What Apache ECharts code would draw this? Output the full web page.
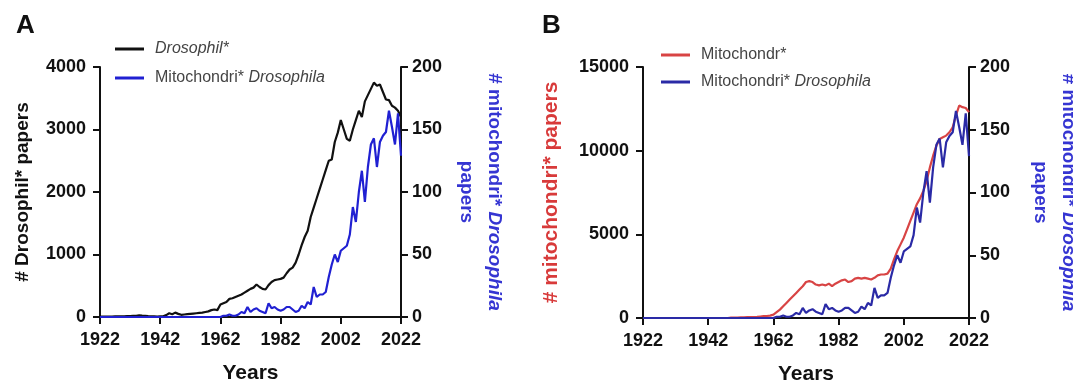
<!DOCTYPE html>
<html>
<head>
<meta charset="utf-8">
<script src="https://cdn.jsdelivr.net/npm/echarts@6/dist/echarts.min.js"></script>
<style>
html,body{margin:0;padding:0;background:#fff;}
#chart{width:1073px;height:385px;}
</style>
</head>
<body>
<div id="chart"></div>
<script>
// Years 1922..2022
var years = [];
for (var y = 1922; y <= 2022; y++) years.push(String(y));

// # Drosophil* papers (left axis, panel A)
var drosophil = [
  5,5,6,8,8,10,10,12,12,15,
  15,18,20,25,22,20,15,12,10,8,
  10,12,30,60,45,70,50,35,40,45,
  50,55,60,65,70,80,90,110,120,110,
  200,220,240,290,300,320,340,360,390,420,
  450,470,520,480,450,440,510,560,590,600,
  610,630,700,760,790,870,1000,1150,1280,1380,
  1600,1750,1900,2050,2200,2350,2500,2520,2800,2950,
  3150,3000,2850,2820,3000,3150,3300,3200,3450,3550,
  3650,3750,3700,3720,3600,3480,3470,3380,3350,3300,
  3200
];

// # Mitochondri* Drosophila papers (right axis, both panels)
var mitoDros = [
  0,0,0,0,0,0,0,0,0,0,
  0,0,0,0,0,0,0,0,0,0,
  0,0,0,0,0,0,0,0,0,0,
  0,0,0,0,0,0,0,0,0,0,
  0,1,1,2,1,1,2,4,3,8,
  4,6,7,5,4,3,11,7,8,6,
  5,6,8,8,6,4,5,9,7,12,
  10,24,16,18,18,20,32,42,50,44,
  53,55,57,66,88,76,100,117,92,120,
  138,143,120,140,145,148,165,152,138,163,
  129
];

// # Mitochondr* papers (left axis, panel B)
var mitochondr = [
  0,0,0,0,0,0,0,0,0,0,
  0,0,0,0,0,0,0,0,0,0,
  0,0,0,0,0,0,0,20,30,30,
  40,40,50,50,60,70,90,110,120,140,
  200,350,500,700,900,1100,1300,1500,1700,1900,
  2150,2200,2150,2000,1950,2000,1950,2050,1900,2050,
  2150,2250,2300,2150,2200,2350,2400,2350,2400,2350,
  2300,2400,2550,2600,2600,2650,2950,3500,4000,4400,
  4800,5300,5800,6300,6800,7150,7600,8200,9000,9700,
  10300,10700,10800,10900,11100,11400,12100,12700,12600,12550,
  12300
];

var leftTicksA = [0, 4000, 1000];
var leftTicksB = [0, 15000, 5000];
var rightTicks = [0, 200, 50];

var FONT = '"Liberation Sans", Arial, sans-serif';
var BLUE_A = '#2020d2';
var BLUE_B = '#2a2aa6';
var RED = '#d84444';
var BLACK = '#111111';
var TITLE_BLUE = '#3535d2';

var legendNames = {
  dros: '{i|Drosophil*}',
  mdA: 'Mitochondri* {i|Drosophila}',
  mito: 'Mitochondr*',
  mdB: 'Mitochondri* {i|Drosophila}'
};

function plain(v) { return String(v); }

function xAxis(gridIndex) {
  return {
    type: 'category', gridIndex: gridIndex, data: years, boundaryGap: false,
    name: 'Years', nameLocation: 'middle', nameGap: 46,
    nameTextStyle: {fontFamily: FONT, fontWeight: 'bold', fontSize: 21, color: BLACK},
    axisLine: {show: true, lineStyle: {color: BLACK, width: 2}},
    axisTick: {show: true, interval: 19, length: 7, lineStyle: {color: BLACK, width: 2}},
    axisLabel: {interval: 19, margin: 14, fontFamily: FONT, fontWeight: 'bold', fontSize: 18, color: BLACK},
    splitLine: {show: false}
  };
}
function yAxis(gridIndex, pos, ticks, name, nameGap, nameColor, nameSize, rot) {
  return {
    type: 'value', gridIndex: gridIndex, position: pos,
    min: ticks[0], max: ticks[1], interval: ticks[2],
    name: name, nameLocation: 'middle', nameGap: nameGap, nameRotate: rot,
    nameTextStyle: {fontFamily: FONT, fontWeight: 'bold', fontSize: nameSize, color: nameColor, lineHeight: 28,
      rich: {i: {fontFamily: FONT, fontWeight: 'bold', fontStyle: 'italic', fontSize: nameSize, color: nameColor, lineHeight: 28}}},
    axisLine: {show: true, lineStyle: {color: BLACK, width: 2}},
    axisTick: {show: true, length: 7, lineStyle: {color: BLACK, width: 2}},
    axisLabel: {margin: pos === 'left' ? 14 : 11, formatter: plain, fontFamily: FONT, fontWeight: 'bold', fontSize: 18, color: BLACK},
    splitLine: {show: false}
  };
}
function line(name, x, y, data, color) {
  return {
    type: 'line', name: name, xAxisIndex: x, yAxisIndex: y, data: data,
    symbol: 'none', showSymbol: false, lineStyle: {color: color, width: 2.2}, itemStyle: {color: color}, animation: false
  };
}
function legend(left, top, data, gap) {
  return {
    orient: 'vertical', left: left, top: top, data: data, icon: 'rect',
    itemWidth: 29, itemHeight: 3, itemGap: gap,
    formatter: function (n) { return legendNames[n]; },
    textStyle: {fontFamily: FONT, fontSize: 16, color: '#444', padding: [0, 0, 0, 6],
      rich: {i: {fontFamily: FONT, fontSize: 16, fontStyle: 'italic', color: '#444'}}},
    selectedMode: false
  };
}

var option = {
  backgroundColor: '#fff',
  animation: false,
  title: [
    {text: 'A', left: 11, top: 8, textStyle: {fontFamily: FONT, fontWeight: 'bold', fontSize: 26, color: BLACK}},
    {text: 'B', left: 537, top: 8, textStyle: {fontFamily: FONT, fontWeight: 'bold', fontSize: 26, color: BLACK}}
  ],
  legend: [
    legend(110, 36, ['dros', 'mdA'], 13),
    legend(656, 42, ['mito', 'mdB'], 11)
  ],
  grid: [
    {left: 100, right: 672, top: 67, bottom: 68, outerBoundsMode: 'none', containLabel: false},
    {left: 643, right: 104, top: 67, bottom: 67, outerBoundsMode: 'none', containLabel: false}
  ],
  xAxis: [xAxis(0), xAxis(1)],
  yAxis: [
    yAxis(0, 'left', leftTicksA, '# Drosophil* papers', 63, BLACK, 19, 90),
    yAxis(0, 'right', rightTicks, '# mitochondri* {i|Drosophila}\npapers', 51, TITLE_BLUE, 19, -90),
    yAxis(1, 'left', leftTicksB, '# mitochondri* papers', 78, '#d83a3a', 21, 90),
    yAxis(1, 'right', rightTicks, '# mitochondri* {i|Drosophila}\npapers', 57, TITLE_BLUE, 19, -90)
  ],
  series: [
    line('dros', 0, 0, drosophil, BLACK),
    line('mdA', 0, 1, mitoDros, BLUE_A),
    line('mito', 1, 2, mitochondr, RED),
    line('mdB', 1, 3, mitoDros, BLUE_B)
  ]
};

var chart = echarts.init(document.getElementById('chart'), null, {renderer: 'canvas'});
chart.setOption(option);
</script>
</body>
</html>
